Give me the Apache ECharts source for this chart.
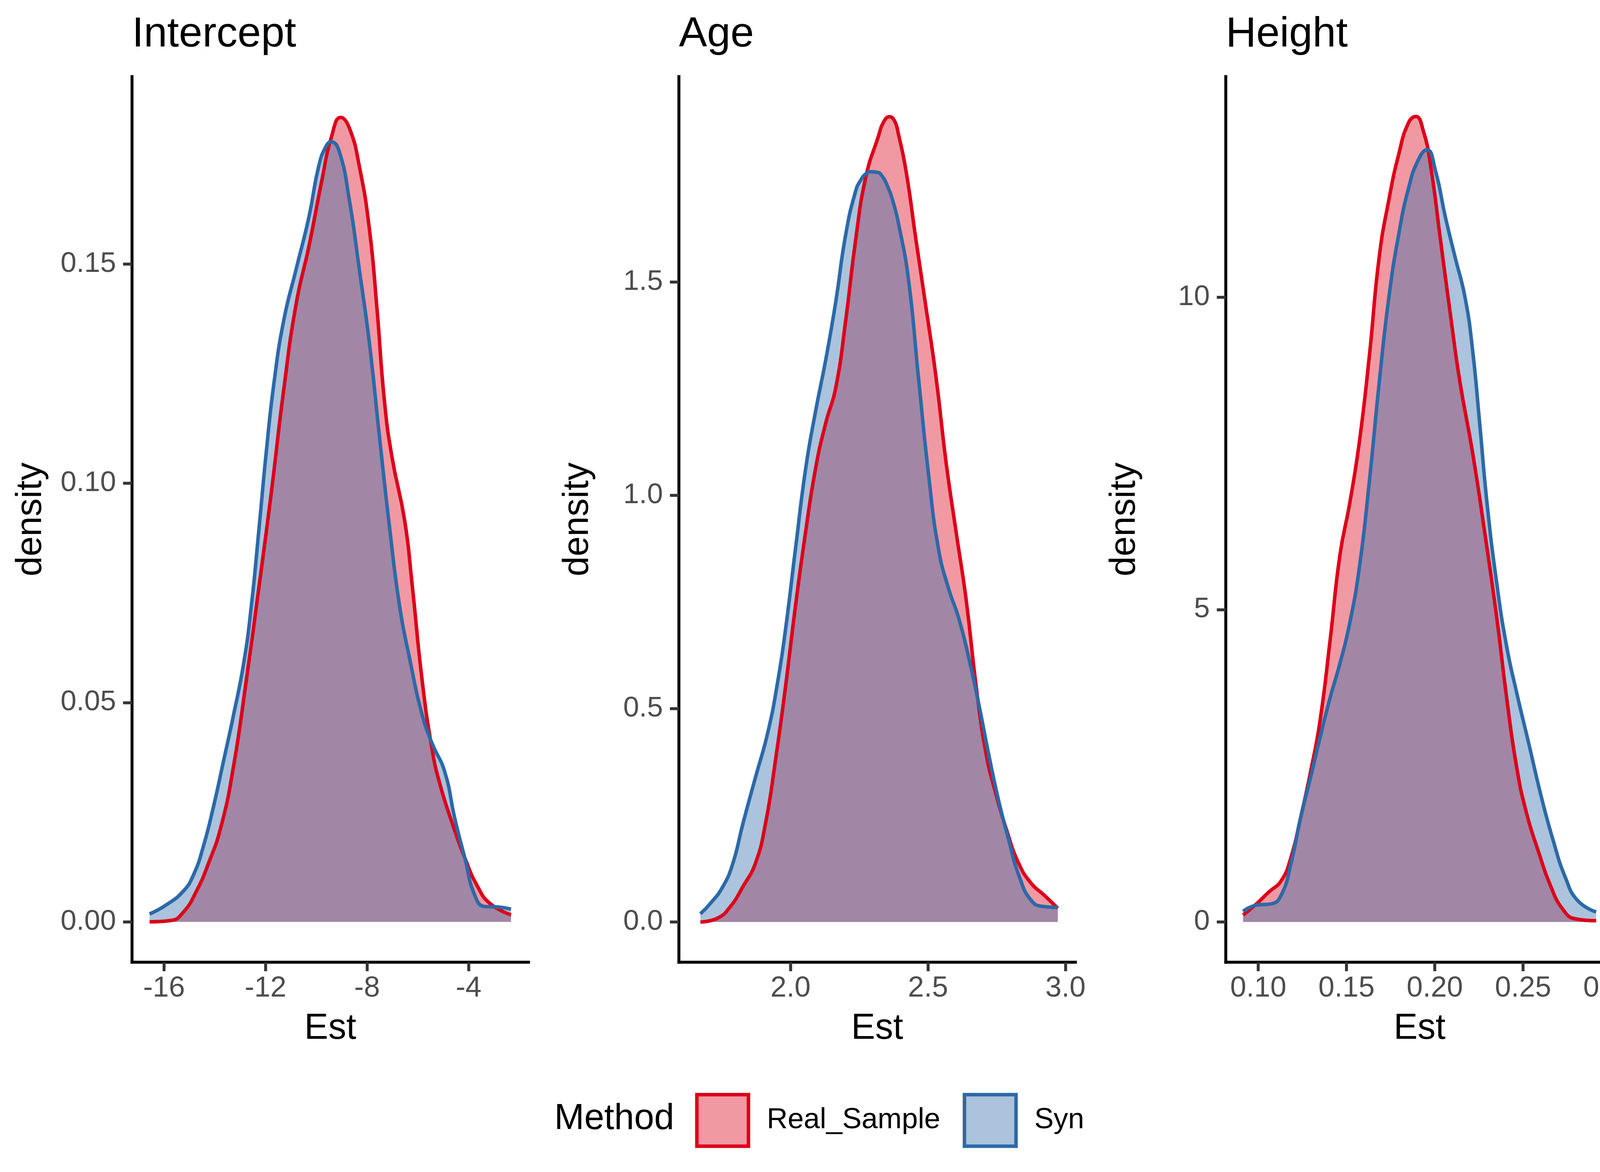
<!DOCTYPE html>
<html lang="en">

<head>
    <meta charset="UTF-8">
    <title>Density of estimates</title>
    <script src="https://cdn.jsdelivr.net/npm/echarts@6/dist/echarts.min.js"></script>
    <style>
        body {
            margin: 0;
            background-color: #ffffff;
        }

        #chart {
            width: 4200px;
            height: 3000px;
        }
    </style>
</head>

<body>
    <div id="chart"></div>

    <script>
        // values (Est, density)
        var interceptRealX = [-16.57, -15.73, -15.24, -14.74, -14.25, -13.75, -13.26, -12.76, -12.27, -11.77, -11.28, -10.79, -10.29, -9.80, -9.40, -9.04, -8.70, -8.31, -7.91, -7.61, -7.32, -7.02, -6.52, -6.23, -5.83, -5.44, -5.14, -4.64, -4.15, -3.65, -3.16, -2.33];
        var interceptRealY = [0.0000, 0.0003, 0.0022, 0.0068, 0.0133, 0.0218, 0.0355, 0.0550, 0.0759, 0.0980, 0.1215, 0.1410, 0.1540, 0.1685, 0.1790, 0.1834, 0.1810, 0.1724, 0.1580, 0.1398, 0.1190, 0.1060, 0.0915, 0.0772, 0.0550, 0.0394, 0.0316, 0.0224, 0.0146, 0.0081, 0.0042, 0.0016];
        var interceptSynX = [-16.57, -15.93, -15.24, -14.84, -14.45, -14.05, -13.65, -13.26, -12.86, -12.56, -12.27, -11.97, -11.67, -11.28, -10.79, -10.29, -9.90, -9.60, -9.41, -9.10, -8.70, -8.31, -7.91, -7.52, -7.12, -6.72, -6.33, -5.83, -5.44, -4.94, -4.55, -4.15, -3.76, -3.36, -2.86, -2.33];
        var interceptSynY = [0.0018, 0.0038, 0.0070, 0.0107, 0.0172, 0.0263, 0.0368, 0.0472, 0.0590, 0.0720, 0.0889, 0.1072, 0.1228, 0.1372, 0.1489, 0.1607, 0.1724, 0.1770, 0.1778, 0.1757, 0.1646, 0.1489, 0.1320, 0.1110, 0.0902, 0.0720, 0.0602, 0.0472, 0.0407, 0.0342, 0.0237, 0.0146, 0.0061, 0.0035, 0.0034, 0.0029];

        var ageRealX = [1.672, 1.735, 1.781, 1.827, 1.872, 1.909, 1.945, 1.982, 2.018, 2.055, 2.091, 2.128, 2.164, 2.201, 2.237, 2.274, 2.319, 2.338, 2.360, 2.379, 2.392, 2.420, 2.456, 2.493, 2.529, 2.566, 2.602, 2.639, 2.675, 2.712, 2.748, 2.785, 2.830, 2.876, 2.922, 2.972];
        var ageRealY = [0.000, 0.009, 0.036, 0.083, 0.137, 0.231, 0.378, 0.553, 0.741, 0.915, 1.063, 1.170, 1.251, 1.412, 1.600, 1.747, 1.841, 1.875, 1.888, 1.877, 1.848, 1.761, 1.600, 1.439, 1.278, 1.076, 0.915, 0.754, 0.553, 0.392, 0.298, 0.217, 0.137, 0.090, 0.063, 0.032];
        var ageSynX = [1.672, 1.708, 1.754, 1.790, 1.827, 1.872, 1.918, 1.954, 1.982, 2.018, 2.055, 2.091, 2.128, 2.164, 2.201, 2.237, 2.256, 2.274, 2.292, 2.310, 2.328, 2.356, 2.374, 2.392, 2.429, 2.465, 2.502, 2.538, 2.575, 2.611, 2.648, 2.684, 2.721, 2.757, 2.794, 2.830, 2.876, 2.922, 2.972];
        var ageSynY = [0.019, 0.043, 0.083, 0.137, 0.231, 0.338, 0.446, 0.566, 0.687, 0.875, 1.063, 1.197, 1.318, 1.452, 1.613, 1.714, 1.740, 1.754, 1.759, 1.758, 1.753, 1.720, 1.686, 1.640, 1.506, 1.278, 1.049, 0.875, 0.781, 0.714, 0.620, 0.513, 0.392, 0.284, 0.191, 0.110, 0.050, 0.036, 0.034];

        var heightRealX = [0.0914, 0.0990, 0.1060, 0.1130, 0.1185, 0.1240, 0.1296, 0.1350, 0.1407, 0.1463, 0.1518, 0.1574, 0.1630, 0.1685, 0.1740, 0.1796, 0.1851, 0.1893, 0.1935, 0.1976, 0.2032, 0.2088, 0.2143, 0.2213, 0.2282, 0.2351, 0.2407, 0.2463, 0.2518, 0.2588, 0.2657, 0.2726, 0.2796, 0.2914];
        var heightRealY = [0.11, 0.29, 0.48, 0.66, 1.03, 1.67, 2.40, 3.22, 4.51, 5.88, 6.70, 7.71, 9.08, 10.64, 11.56, 12.29, 12.79, 12.89, 12.66, 12.11, 10.92, 9.73, 8.63, 7.53, 6.25, 4.87, 3.59, 2.49, 1.76, 1.12, 0.57, 0.20, 0.05, 0.02];
        var heightSynX = [0.0914, 0.0990, 0.1074, 0.1130, 0.1185, 0.1240, 0.1296, 0.1350, 0.1407, 0.1463, 0.1518, 0.1574, 0.1630, 0.1685, 0.1740, 0.1796, 0.1851, 0.1907, 0.1956, 0.2004, 0.2060, 0.2115, 0.2171, 0.2213, 0.2254, 0.2296, 0.2351, 0.2407, 0.2463, 0.2532, 0.2601, 0.2671, 0.2740, 0.2810, 0.2914];
        var heightSynY = [0.17, 0.27, 0.29, 0.43, 0.93, 1.67, 2.31, 2.95, 3.59, 4.14, 4.78, 5.70, 7.07, 8.63, 10.00, 11.01, 11.74, 12.20, 12.36, 12.02, 11.28, 10.64, 10.00, 9.18, 7.99, 6.70, 5.42, 4.41, 3.68, 2.86, 2.03, 1.30, 0.71, 0.34, 0.16];

        // tick positions and panel names
        var panelTitles = ['Intercept', 'Age', 'Height'];
        var xTicks = [[-16, -12, -8, -4], [2.0, 2.5, 3.0], [0.10, 0.15, 0.20, 0.25, 0.30]];
        var yTicks = [[0, 0.05, 0.10, 0.15], [0, 0.5, 1.0, 1.5], [0, 5, 10]];
        var xDigits = [0, 1, 2];
        var yDigits = [2, 1, 0];
        var methods = ['Real_Sample', 'Syn'];

        var FONT = 'Liberation Sans, Arial, Helvetica, sans-serif';
        var RED = '#DC001A';
        var BLUE = '#2C69A8';
        var RED_FILL = 'rgba(220, 0, 26, 0.4)';
        var BLUE_FILL = 'rgba(44, 105, 168, 0.4)';

        // axis ranges with ggplot's 5% padding
        var xRange = [[-17.26, -1.64], [1.594, 3.036], [0.0816, 0.3012]];
        var yRange = [[-0.0092, 0.1927], [-0.0944, 1.982], [-0.644, 13.53]];
        var gridLeft = [338, 1738, 3138];

        function pairs(xs, ys) {
            return xs.map(function (x, i) { return [x, ys[i]]; });
        }

        var curves = [
            [pairs(interceptRealX, interceptRealY), pairs(interceptSynX, interceptSynY)],
            [pairs(ageRealX, ageRealY), pairs(ageSynX, ageSynY)],
            [pairs(heightRealX, heightRealY), pairs(heightSynX, heightSynY)]
        ];

        var grids = [], xAxes = [], yAxes = [], series = [], titles = [];

        for (var p = 0; p < 3; p++) {
            grids.push({ left: gridLeft[p], top: 196, width: 1015, height: 2267 });

            (function (p) {
                xAxes.push({
                    type: 'value', gridIndex: p,
                    min: xRange[p][0], max: xRange[p][1],
                    name: 'Est', nameLocation: 'middle', nameGap: 125,
                    nameTextStyle: { fontFamily: FONT, fontSize: 92, color: '#000' },
                    axisLine: { show: true, onZero: false, lineStyle: { color: '#000', width: 7.5, cap: 'square' } },
                    axisTick: { show: true, length: 23, customValues: xTicks[p], lineStyle: { color: '#333', width: 7.5 } },
                    axisLabel: {
                        margin: 31, fontFamily: FONT, fontSize: 74, color: '#4D4D4D',
                        customValues: xTicks[p],
                        formatter: function (v) { return v.toFixed(xDigits[p]); }
                    },
                    splitLine: { show: false }
                });
                yAxes.push({
                    type: 'value', gridIndex: p,
                    min: yRange[p][0], max: yRange[p][1],
                    name: 'density', nameLocation: 'middle', nameGap: 212,
                    nameTextStyle: { fontFamily: FONT, fontSize: 92, color: '#000' },
                    axisLine: { show: true, onZero: false, lineStyle: { color: '#000', width: 7.5, cap: 'square' } },
                    axisTick: { show: true, length: 23, customValues: yTicks[p], lineStyle: { color: '#333', width: 7.5 } },
                    axisLabel: {
                        margin: 41, fontFamily: FONT, fontSize: 73, color: '#4D4D4D',
                        customValues: yTicks[p],
                        formatter: function (v) { return v.toFixed(yDigits[p]); }
                    },
                    splitLine: { show: false }
                });
            })(p);

            // red first, blue drawn over it like in the original
            [[RED, RED_FILL], [BLUE, BLUE_FILL]].forEach(function (c, k) {
                series.push({
                    type: 'line', name: methods[k],
                    xAxisIndex: p, yAxisIndex: p,
                    data: curves[p][k],
                    showSymbol: false, smooth: 0.5,
                    lineStyle: { color: c[0], width: 9, join: 'round' },
                    itemStyle: { color: c[0] },
                    areaStyle: { color: c[1], opacity: 1, origin: 0 },
                    silent: true, animation: false
                });
            });

            titles.push({
                text: panelTitles[p], left: gridLeft[p], top: 35, padding: 0,
                textStyle: { fontFamily: FONT, fontSize: 108, fontWeight: 'normal', color: '#000' }
            });
        }

        titles.push({
            text: 'Method', left: 1419, top: 2819, padding: 0,
            textStyle: { fontFamily: FONT, fontSize: 92, fontWeight: 'normal', color: '#000' }
        });

        function legendFor(name, left, stroke, fill) {
            return {
                data: [{ name: name, itemStyle: { color: fill, borderColor: stroke, borderWidth: 9 } }],
                left: left, top: 2797.5, padding: 0,
                icon: 'rect', itemWidth: 132, itemHeight: 132,
                selectedMode: false,
                textStyle: { fontFamily: FONT, fontSize: 74, color: '#000', padding: [0, 0, 0, 42] }
            };
        }

        var chart = echarts.init(document.getElementById('chart'));
        chart.setOption({
            backgroundColor: '#ffffff',
            animation: false,
            title: titles,
            legend: [
                legendFor(methods[0], 1779.5, RED, RED_FILL),
                legendFor(methods[1], 2464.5, BLUE, BLUE_FILL)
            ],
            grid: grids,
            xAxis: xAxes,
            yAxis: yAxes,
            series: series
        });
    </script>
</body>

</html>
